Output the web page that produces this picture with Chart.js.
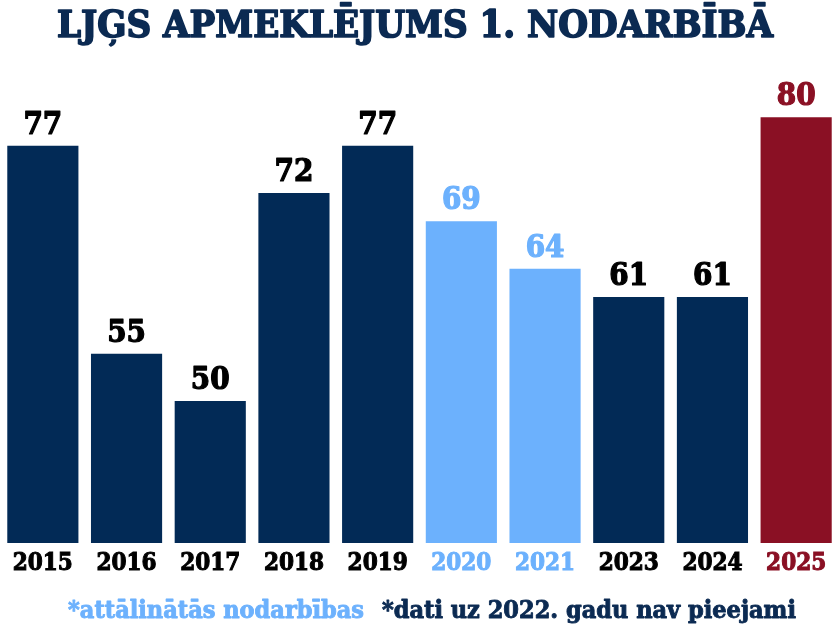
<!DOCTYPE html>
<html>
<head>
<meta charset="utf-8">
<script src="https://cdn.jsdelivr.net/npm/chart.js@4"></script>
<style>
  html, body { margin: 0; padding: 0; background: #fff; }
  canvas { display: block; }
</style>
</head>
<body>
<canvas id="chart" width="838" height="630"></canvas>
<script>
const years = ['2015', '2016', '2017', '2018', '2019', '2020', '2021', '2023', '2024', '2025'];
const visits = [77, 55, 50, 72, 77, 69, 64, 61, 61, 80];
const kinds = ['norm', 'norm', 'norm', 'norm', 'norm', 'remote', 'remote', 'norm', 'norm', 'now'];

const titleText = 'LJĢS APMEKLĒJUMS 1. NODARBĪBĀ';
const noteRemote = '*attālinātās nodarbības';
const noteMissing = '*dati uz 2022. gadu nav pieejami';

const NAVY = '#022a56';
const LIGHT = '#6cb1fd';
const RED = '#8a1024';
const serif = '"DejaVu Serif Condensed", "DejaVu Serif", serif';

const barColor = k => k === 'remote' ? LIGHT : k === 'now' ? RED : NAVY;
const textColor = k => k === 'remote' ? LIGHT : k === 'now' ? RED : '#000';

// fill + thin stroke so the text looks as heavy as the original
function heavyText(ctx, txt, x, y, color, width) {
  ctx.fillStyle = color;
  ctx.strokeStyle = color;
  ctx.lineWidth = width;
  ctx.lineJoin = 'round';
  ctx.strokeText(txt, x, y);
  ctx.fillText(txt, x, y);
}

const extras = {
  id: 'extras',
  afterDatasetsDraw(chart) {
    const ctx = chart.ctx;
    const meta = chart.getDatasetMeta(0);
    ctx.save();
    ctx.textAlign = 'center';
    ctx.textBaseline = 'alphabetic';
    ctx.font = 'bold 31px ' + serif;
    meta.data.forEach((bar, i) => {
      heavyText(ctx, String(visits[i]), bar.x, bar.y - 12, textColor(kinds[i]), 1.2);
    });

    // title
    ctx.font = 'bold 38px ' + serif;
    heavyText(ctx, titleText, 415, 37, '#0b2a52', 1.6);

    // footer notes
    ctx.font = 'bold 25px ' + serif;
    const gap = 18;
    const w1 = ctx.measureText(noteRemote).width;
    const w2 = ctx.measureText(noteMissing).width;
    const x = 432 - (w1 + gap + w2) / 2;
    ctx.textAlign = 'left';
    heavyText(ctx, noteRemote, x, 618, LIGHT, 0.9);
    heavyText(ctx, noteMissing, x + w1 + gap, 618, '#0b2a52', 0.9);
    ctx.restore();
  }
};

new Chart(document.getElementById('chart'), {
  type: 'bar',
  data: {
    labels: years,
    datasets: [{
      data: visits,
      backgroundColor: kinds.map(barColor),
      categoryPercentage: 1,
      barPercentage: 0.85,
      borderWidth: 0
    }]
  },
  options: {
    responsive: false,
    devicePixelRatio: 1,
    animation: false,
    layout: { padding: { top: 70, left: 1, right: 0, bottom: 37 } },
    plugins: { legend: { display: false }, tooltip: { enabled: false } },
    scales: {
      y: { display: false, min: 35, max: 85 },
      x: {
        grid: { display: false, drawTicks: false },
        border: { display: false },
        afterFit(scale) { scale.height = 50; },
        ticks: {
          padding: 6,
          color: kinds.map(textColor),
          textStrokeColor: kinds.map(textColor),
          textStrokeWidth: 1,
          font: { family: serif, size: 24, weight: 'bold' }
        }
      }
    }
  },
  plugins: [extras]
});
</script>
</body>
</html>
